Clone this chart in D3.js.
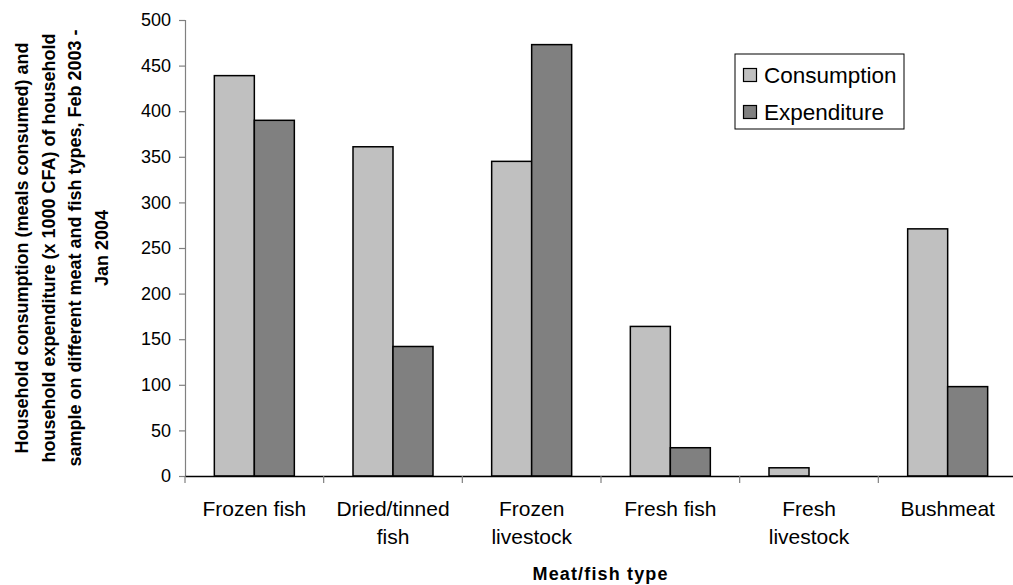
<!DOCTYPE html>
<html><head><meta charset="utf-8">
<script src="https://cdn.jsdelivr.net/npm/d3@7"></script>
<style>body{margin:0;background:#fff;overflow:hidden}svg{display:block}text{font-family:"Liberation Sans",Arial,sans-serif}</style>
</head><body>
<script>
const categories = [["Frozen fish"],["Dried/tinned","fish"],["Frozen","livestock"],["Fresh fish"],["Fresh","livestock"],["Bushmeat"]];
const seriesNames = ["Consumption","Expenditure"];
const consumption = [439, 361, 345, 164, 9, 271];
const expenditure = [390, 142, 473, 31, 0, 98];
const yTicks = [0,50,100,150,200,250,300,350,400,450,500];
const colors = ["#c0c0c0","#808080"];

const W=1013,H=585;
const svg=d3.select("body").append("svg").attr("width",W).attr("height",H);
const x=d3.scaleBand().domain(d3.range(categories.length)).range([185,1017]).padding(0);
const y=d3.scaleLinear().domain([0,500]).range([476,20]);
const barW=40;
const sub=d3.scaleBand().domain([0,1]).range([0,barW*2]);

// bars
const data=[consumption,expenditure];
const g=svg.append("g");
categories.forEach((c,i)=>{
  const cx=x(i)+x.bandwidth()/2;
  data.forEach((s,k)=>{
    if(s[i]<=0) return;
    g.append("rect").attr("x",cx-barW+sub(k)).attr("width",sub.bandwidth())
      .attr("y",y(s[i])).attr("height",y(0)-y(s[i]))
      .attr("fill",colors[k]).attr("stroke","#000").attr("stroke-width",1.5);
  });
});

// y axis
const ya=svg.append("g").attr("transform","translate(185,0)")
  .call(d3.axisLeft(y).tickValues(yTicks).tickSize(6).tickPadding(8).tickFormat(d3.format("d")));
ya.select(".domain").attr("stroke","#808080").attr("stroke-width",1.2);
ya.selectAll(".tick line").attr("stroke","#808080").attr("stroke-width",1.2);
ya.selectAll("text").attr("font-size",18).attr("fill","#000").attr("font-family","Liberation Sans, Arial, sans-serif");

// x axis
const xa=svg.append("g").attr("transform","translate(0,476)")
  .call(d3.axisBottom(x).tickValues([]).tickSizeOuter(0));
xa.select(".domain").attr("stroke","#000").attr("stroke-width",1.3);
const ticksX=d3.range(categories.length+1).map(i=>185+i*x.bandwidth());
xa.selectAll(".tk").data(ticksX).enter().append("line")
  .attr("x1",d=>d).attr("x2",d=>d).attr("y1",0).attr("y2",7).attr("stroke","#808080").attr("stroke-width",1.2);
categories.forEach((c,i)=>{
  const cx=x(i)+x.bandwidth()/2;
  const t=svg.append("text").attr("x",cx).attr("y",516).attr("text-anchor","middle").attr("font-size",21).attr("fill","#000");
  c.forEach((l,j)=>t.append("tspan").attr("x",cx).attr("dy",j?28:0).text(l));
});

// axis titles
svg.append("text").attr("x",600).attr("y",580).attr("text-anchor","middle").attr("font-size",18).attr("font-weight","bold")
  .attr("textLength",135).attr("lengthAdjust","spacing").text("Meat/fish type");
const ylines=["Household consumption (meals consumed) and","household expenditure (x 1000 CFA) of household","sample on different meat and fish types, Feb 2003 -","Jan 2004"];
const yt=svg.append("text").attr("transform","translate(28,248) rotate(-90)").attr("text-anchor","middle").attr("font-size",18).attr("font-weight","bold");
ylines.forEach((l,j)=>yt.append("tspan").attr("x",0).attr("dy",j?26.5:0).text(l));

// legend
const lg=svg.append("g");
lg.append("rect").attr("x",735).attr("y",54).attr("width",169).attr("height",75).attr("fill","#fff").attr("stroke","#000").attr("stroke-width",1);
seriesNames.forEach((n,k)=>{
  const yy=75+k*37;
  lg.append("rect").attr("x",743.5).attr("y",yy-6.5).attr("width",13).attr("height",13).attr("fill",colors[k]).attr("stroke","#000").attr("stroke-width",1.2);
  lg.append("text").attr("x",764).attr("y",yy+7.5).attr("font-size",22.5).text(n);
});
</script>
</body></html>
